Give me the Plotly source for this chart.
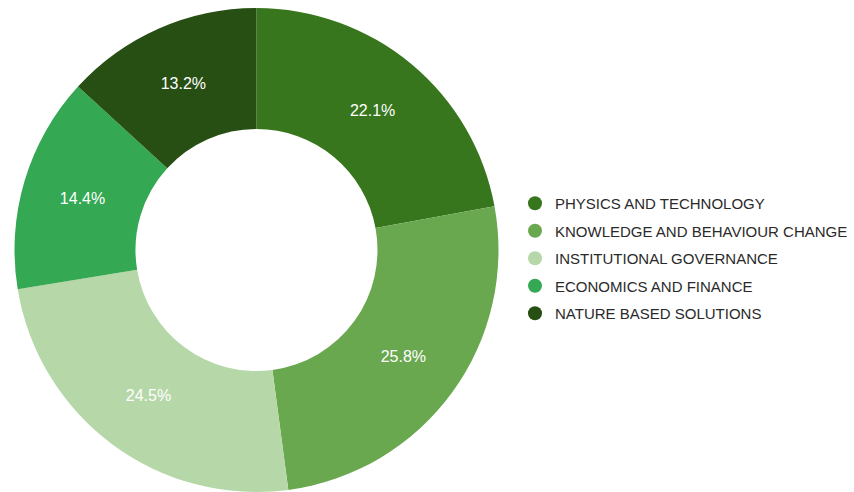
import plotly.graph_objects as go

categories = [
    "PHYSICS AND TECHNOLOGY",
    "KNOWLEDGE AND BEHAVIOUR CHANGE",
    "INSTITUTIONAL GOVERNANCE",
    "ECONOMICS AND FINANCE",
    "NATURE BASED SOLUTIONS",
]
shares = [22.1, 25.8, 24.5, 14.4, 13.2]
colors = ["#38761d", "#6aa84f", "#b6d7a8", "#34a853", "#274e13"]

W, H = 854, 492
fig = go.Figure()

fig.add_trace(go.Pie(
    labels=categories,
    values=shares,
    hole=0.5,
    sort=False,
    direction="clockwise",
    rotation=0,
    marker=dict(colors=colors, line=dict(width=0)),
    texttemplate="%{value:.1f}%",
    textinfo="text",
    textposition="inside",
    insidetextorientation="horizontal",
    textfont=dict(family="Liberation Sans, Arial, sans-serif", size=16, color="white"),
    domain=dict(x=[14.5 / W, 498.5 / W], y=[0, 484 / H]),
    showlegend=False,
    hoverinfo="label+percent",
))

# Legend entries with round markers
for i, (name, col) in enumerate(zip(categories, colors)):
    fig.add_trace(go.Scatter(
        x=[None], y=[None], mode="markers", name=name,
        legendgroup=f"g{i}",
        marker=dict(symbol="circle", size=14, color=col),
        showlegend=True,
    ))

fig.update_layout(
    width=W, height=H,
    margin=dict(l=0, r=0, t=0, b=0),
    paper_bgcolor="white",
    plot_bgcolor="white",
    xaxis=dict(visible=False, domain=[0.99, 1]),
    yaxis=dict(visible=False, domain=[0.99, 1]),
    legend=dict(
        x=515 / W, y=233.5 / H, xanchor="left", yanchor="middle",
        font=dict(family="Liberation Sans, Arial, sans-serif", size=15, color="#2a2a2a"),
        tracegroupgap=5,
        itemsizing="trace",
        bgcolor="rgba(0,0,0,0)",
    ),
)

fig.write_html("out.html")
